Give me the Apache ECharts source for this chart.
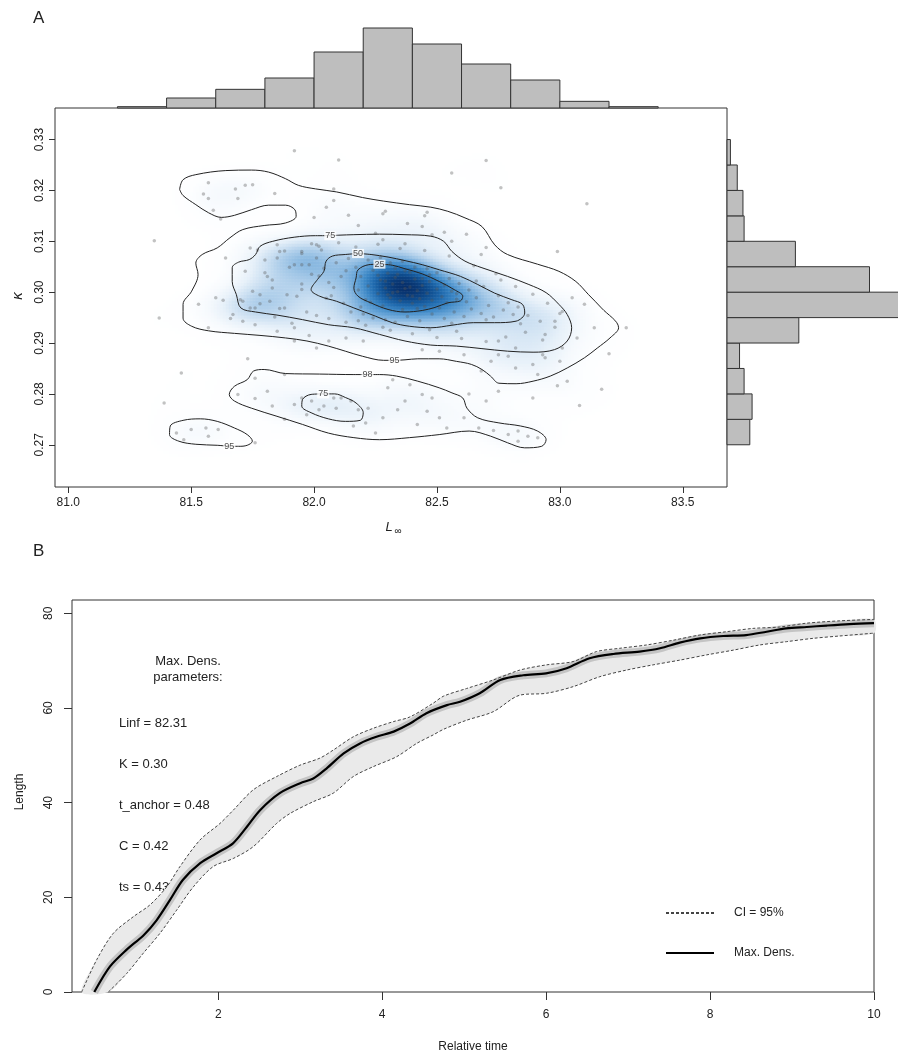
<!DOCTYPE html>
<html>
<head>
<meta charset="utf-8">
<script src="https://cdn.jsdelivr.net/npm/echarts@6/dist/echarts.min.js"></script>
<style>
  html, body { margin: 0; padding: 0; background: #fff; }
  #main { width: 898px; height: 1055px; }
</style>
</head>
<body>
<div id="main"></div>
<script>
  // ---- panel A: bootstrap samples (Linf, K) ----
  const samplesOuter = [
    [81.92,0.3278],[82.10,0.3260],[82.70,0.3259],[82.56,0.3234],[82.76,0.3205],[83.11,0.3174],
    [81.35,0.3101],[81.37,0.2949],[81.39,0.2782],[81.46,0.2841],[82.99,0.3080],[83.27,0.2930],
    [83.20,0.2879],[83.17,0.2809],[83.08,0.2777],[82.99,0.2816],[82.63,0.2800],[81.73,0.2869],
    [81.57,0.3215],[81.68,0.3203],[81.72,0.3210],[81.75,0.3211],[81.84,0.3194],[81.55,0.3193],
    [81.57,0.3184],[81.69,0.3184],[81.59,0.3161],[81.62,0.3144],[82.08,0.3203],[82.08,0.3180],
    [82.00,0.3147],[82.05,0.3167],[82.14,0.3151],[82.18,0.3131],[82.28,0.3154],[82.29,0.3159],
    [82.38,0.3135],[82.45,0.3150],[82.46,0.3157],[82.48,0.3113],[82.53,0.3118],[82.62,0.3114],
    [82.44,0.3129],[82.28,0.3103],[82.37,0.3095],[82.70,0.3088],[82.25,0.3116],[82.56,0.3100],
    [82.68,0.3074],[81.64,0.3067],[81.74,0.3087],[81.60,0.2989],[81.63,0.2984],[81.53,0.2976],
    [81.66,0.2948],[81.67,0.2956],[81.76,0.2969],[81.71,0.2943],[81.76,0.2936],[81.85,0.2923],
    [81.92,0.2930],[81.98,0.2915],[81.57,0.2930],[81.85,0.3093],[81.95,0.3080],[82.01,0.3093],
    [82.02,0.3090],[81.80,0.3038],[81.81,0.3031],[81.85,0.3067],[81.86,0.3080],[81.92,0.3054],
    [81.95,0.3005],[81.95,0.3016],[81.89,0.2995],[81.83,0.3008],[81.82,0.2982],[81.88,0.2969],
    [81.99,0.3035],[82.01,0.3067],[81.98,0.3054],[81.95,0.3054],[81.74,0.2969],[81.78,0.2995],
    [81.71,0.2982],
    [83.07,0.2910],[83.14,0.2930],[83.01,0.2890],[82.93,0.2877],[82.79,0.2874],[82.72,0.2864],
    [82.68,0.2845],[82.82,0.2851],[82.89,0.2858],[82.94,0.2871],[83.00,0.2864],[82.75,0.2877],
    [82.61,0.2877],[82.51,0.2884],[82.44,0.2887],[82.20,0.2904],[82.13,0.2910],[82.06,0.2904],
    [82.01,0.2890],[81.92,0.2904],[83.05,0.2989],[83.10,0.2976],[83.01,0.2962],[82.98,0.2943],
    [82.94,0.2917],[82.82,0.2890],[82.75,0.2904],
    [81.69,0.2799],[81.76,0.2791],[81.83,0.2776],[81.81,0.2805],[81.88,0.2838],[81.76,0.2831],
    [81.95,0.2792],[81.99,0.2786],[82.04,0.2776],[82.08,0.2792],[82.11,0.2792],[82.09,0.2772],
    [82.02,0.2769],[82.15,0.2786],[82.18,0.2769],[82.22,0.2772],[82.21,0.2743],[82.16,0.2737],
    [82.25,0.2723],[82.28,0.2753],[82.34,0.2769],[82.37,0.2786],[82.44,0.2799],[82.48,0.2792],
    [82.30,0.2812],[82.39,0.2818],[82.32,0.2828],[82.46,0.2766],[82.51,0.2753],[82.54,0.2733],
    [82.42,0.2740],[82.61,0.2753],[82.73,0.2728],[82.79,0.2720],[82.83,0.2727],[82.87,0.2717],
    [82.91,0.2714],[82.83,0.2707],[82.67,0.2733],[81.92,0.2779],[81.88,0.2750],[81.97,0.2759],
    [81.44,0.2723],[81.50,0.2730],[81.56,0.2733],[81.61,0.2730],[81.47,0.2710],[81.57,0.2717],
    [81.76,0.2704],[82.75,0.2805],[82.91,0.2838],[83.03,0.2825],[82.70,0.2786],[82.89,0.2792]
  ];
  // dense centre of the cloud (inside the 75 % contour)
  const samplesCore = [
    [82.19,0.3031],[82.22,0.3012],[82.24,0.3043],[82.26,0.2997],[82.27,0.3024],[82.29,0.3008],
    [82.30,0.3037],[82.31,0.2989],[82.32,0.3016],[82.33,0.3029],[82.34,0.3001],[82.35,0.2983],
    [82.36,0.3019],[82.37,0.3042],[82.38,0.2994],[82.39,0.3010],[82.40,0.2978],[82.41,0.3026],
    [82.42,0.3003],[82.43,0.2987],[82.44,0.3013],[82.45,0.2972],[82.46,0.2998],[82.47,0.3021],
    [82.48,0.2984],[82.50,0.3006],[82.51,0.2969],[82.52,0.2991],[82.54,0.2979],[82.56,0.3002],
    [82.58,0.2986],[82.21,0.2985],[82.25,0.3051],[82.28,0.2973],[82.33,0.3047],[82.36,0.2966],
    [82.18,0.3004],[82.23,0.2980],[82.30,0.2995],[82.34,0.3035],[82.39,0.3039],[82.42,0.2968],
    [82.47,0.3034],[82.53,0.3014],[82.29,0.3022],[82.32,0.2999],[82.37,0.3007],[82.26,0.3033],
    [82.40,0.2992],[82.44,0.3027],
    [82.04,0.3047],[82.06,0.3019],[82.07,0.2993],[82.09,0.3058],[82.11,0.3031],[82.12,0.2978],
    [82.14,0.3066],[82.15,0.2961],[82.17,0.3049],[82.20,0.2957],[82.22,0.3063],[82.24,0.2949],
    [82.27,0.3068],[82.29,0.2946],[82.31,0.3058],[82.33,0.2941],[82.36,0.3061],[82.38,0.2952],
    [82.41,0.3049],[82.43,0.2944],[82.46,0.3046],[82.48,0.2957],[82.50,0.3038],[82.53,0.2948],
    [82.55,0.3027],[82.57,0.2961],[82.59,0.3017],[82.61,0.2952],[82.63,0.3004],[82.64,0.2967],
    [82.66,0.2989],[82.68,0.2958],[82.69,0.3011],[82.71,0.2974],[82.73,0.2951],[82.75,0.2993],
    [82.77,0.2965],[82.79,0.2979],[82.81,0.2956],[82.83,0.2971],[82.62,0.2981],[82.58,0.2997],
    [82.70,0.2946],[82.08,0.3009],[82.13,0.3042],[82.19,0.2971],[82.02,0.3032],[82.05,0.2988],
    [82.56,0.2939],[82.66,0.3022],
    [81.72,0.3041],[81.75,0.3002],[81.78,0.2977],[81.80,0.3063],[81.83,0.3024],[81.86,0.2968],
    [81.88,0.3081],[81.90,0.3049],[81.93,0.2992],[81.95,0.3076],[81.97,0.2961],[81.99,0.3095],
    [82.01,0.2954],[82.03,0.3083],[82.06,0.2948],[82.10,0.3097],[82.13,0.2941],[82.17,0.3089],
    [82.21,0.2935],[82.26,0.3094],[82.31,0.2925],[82.35,0.3086],[82.40,0.2918],[82.45,0.3082],
    [82.50,0.2911],[82.55,0.3071],[82.60,0.2909],[82.65,0.3052],[82.70,0.2903],[82.74,0.3036],
    [82.78,0.2912],[82.82,0.3011],[82.86,0.2921],[82.89,0.2996],[82.92,0.2943],[82.95,0.2978],
    [82.98,0.2931],[83.00,0.2958],[82.87,0.2954],[82.76,0.3024],[82.84,0.2938],[82.93,0.2906],
    [81.70,0.2985],[81.77,0.3083],[81.84,0.2951],[82.47,0.2926],[82.58,0.2923],[82.28,0.2931],
    [82.18,0.2944],[81.91,0.2939]
  ];

  // HPD contour outlines (Linf, K)
  const contour25 = [
    [82.266,0.3055],[82.223,0.3054],[82.179,0.3044],[82.171,0.3028],[82.162,0.3008],[82.179,0.2992],
    [82.231,0.2979],[82.301,0.2966],[82.370,0.2961],[82.440,0.2964],[82.492,0.2970],[82.544,0.2979],
    [82.596,0.2983],[82.605,0.2992],[82.570,0.3005],[82.509,0.3021],[82.440,0.3036],[82.370,0.3046],
    [82.318,0.3053]
  ];
  const contour50 = [
    [82.179,0.3076],[82.127,0.3074],[82.075,0.3071],[82.049,0.3061],[82.040,0.3041],[82.014,0.3025],
    [81.988,0.3005],[82.023,0.2992],[82.092,0.2982],[82.162,0.2969],[82.249,0.2953],[82.318,0.2940],
    [82.388,0.2933],[82.475,0.2930],[82.561,0.2935],[82.648,0.2940],[82.735,0.2940],[82.822,0.2943],
    [82.857,0.2959],[82.848,0.2976],[82.805,0.2985],[82.735,0.2998],[82.666,0.3015],[82.596,0.3031],
    [82.509,0.3044],[82.440,0.3054],[82.370,0.3062],[82.301,0.3069],[82.232,0.3074]
  ];
  const contour75 = [
    [82.066,0.3111],[82.006,0.3111],[81.919,0.3108],[81.832,0.3100],[81.780,0.3090],[81.762,0.3074],
    [81.736,0.3064],[81.693,0.3059],[81.667,0.3048],[81.667,0.3021],[81.684,0.2995],[81.702,0.2969],
    [81.762,0.2961],[81.849,0.2955],[81.953,0.2946],[82.058,0.2936],[82.162,0.2930],[82.266,0.2917],
    [82.370,0.2904],[82.475,0.2896],[82.579,0.2894],[82.683,0.2889],[82.787,0.2884],[82.891,0.2882],
    [82.978,0.2887],[83.030,0.2904],[83.048,0.2930],[83.030,0.2956],[82.996,0.2976],[82.944,0.2999],
    [82.874,0.3015],[82.787,0.3031],[82.683,0.3048],[82.614,0.3061],[82.561,0.3080],[82.527,0.3100],
    [82.475,0.3110],[82.370,0.3113],[82.266,0.3114],[82.162,0.3113],[82.101,0.3112]
  ];
  const contour95 = [
    [81.453,0.3202],[81.467,0.3221],[81.519,0.3231],[81.641,0.3239],[81.745,0.3240],[81.815,0.3236],
    [81.884,0.3223],[81.936,0.3210],[82.006,0.3203],[82.092,0.3197],[82.197,0.3186],[82.283,0.3179],
    [82.388,0.3172],[82.475,0.3167],[82.544,0.3159],[82.614,0.3146],[82.683,0.3129],[82.735,0.3093],
    [82.787,0.3074],[82.909,0.3055],[82.996,0.3041],[83.065,0.3021],[83.117,0.2995],[83.169,0.2969],
    [83.239,0.2930],[83.204,0.2910],[83.152,0.2890],[83.100,0.2871],[83.030,0.2851],[82.961,0.2835],
    [82.891,0.2825],[82.822,0.2820],[82.752,0.2821],[82.718,0.2835],[82.683,0.2848],[82.640,0.2858],
    [82.579,0.2864],[82.509,0.2869],[82.422,0.2869],[82.370,0.2867],[82.327,0.2866],[82.283,0.2866],
    [82.197,0.2874],[82.127,0.2884],[82.058,0.2894],[81.971,0.2904],[81.884,0.2910],[81.780,0.2915],
    [81.676,0.2919],[81.571,0.2924],[81.502,0.2933],[81.467,0.2949],[81.467,0.2976],[81.502,0.3002],
    [81.528,0.3035],[81.519,0.3057],[81.545,0.3074],[81.606,0.3087],[81.658,0.3107],[81.710,0.3123],
    [81.797,0.3131],[81.884,0.3136],[81.927,0.3149],[81.922,0.3162],[81.884,0.3171],[81.815,0.3171],
    [81.745,0.3162],[81.676,0.3151],[81.623,0.3147],[81.571,0.3156],[81.519,0.3172],[81.467,0.3190]
  ];
  const contour98Low = [
    [82.217,0.2838],[82.162,0.2838],[82.023,0.2839],[81.884,0.2840],[81.797,0.2848],[81.754,0.2845],
    [81.728,0.2828],[81.676,0.2815],[81.655,0.2799],[81.676,0.2786],[81.745,0.2772],[81.849,0.2756],
    [81.953,0.2740],[82.058,0.2723],[82.162,0.2714],[82.266,0.2710],[82.388,0.2714],[82.509,0.2720],
    [82.631,0.2727],[82.718,0.2717],[82.787,0.2704],[82.857,0.2694],[82.926,0.2697],[82.944,0.2710],
    [82.909,0.2727],[82.839,0.2737],[82.752,0.2743],[82.666,0.2753],[82.622,0.2772],[82.605,0.2792],
    [82.561,0.2802],[82.509,0.2812],[82.422,0.2825],[82.336,0.2835],[82.266,0.2838]
  ];
  const contour75Low = [
    [82.037,0.2800],[81.988,0.2799],[81.953,0.2789],[81.950,0.2776],[81.988,0.2763],[82.058,0.2751],
    [82.127,0.2746],[82.188,0.2748],[82.200,0.2763],[82.171,0.2782],[82.127,0.2793],[82.084,0.2800]
  ];
  const contour95Low = [
    [81.655,0.2697],[81.606,0.2699],[81.519,0.2701],[81.450,0.2707],[81.412,0.2720],[81.415,0.2737],
    [81.467,0.2748],[81.537,0.2751],[81.606,0.2746],[81.676,0.2733],[81.728,0.2720],[81.749,0.2707],
    [81.728,0.2699],[81.693,0.2697]
  ];
  const contourLabels = [
    [82.266,0.3055,'25'],[82.179,0.3076,'50'],[82.066,0.3111,'75'],[82.327,0.2866,'95'],
    [82.217,0.2838,'98'],[82.037,0.2800,'75'],[81.655,0.2697,'95']
  ];

  // marginal histograms
  const linfEdges = [81.2,81.4,81.6,81.8,82.0,82.2,82.4,82.6,82.8,83.0,83.2,83.4];
  const linfCounts = [2,15,28,45,84,120,96,66,42,10,2];
  const kEdges = [0.270,0.275,0.280,0.285,0.290,0.295,0.300,0.305,0.310,0.315,0.320,0.325,0.330];
  const kCounts = [20,22,15,11,63,153,125,60,15,14,9,3];

  // ---- panel B: growth curves (relative time, length) ----
  const maxDens = [
    [0.488,0],[0.68,5.4],[0.88,8.9],[1.09,12.0],[1.25,15.2],[1.41,19.4],[1.57,23.7],[1.78,27.2],
    [1.98,29.3],[2.18,31.4],[2.35,34.9],[2.51,38.4],[2.75,42.0],[3.0,44.1],[3.16,45.1],[3.32,47.2],
    [3.53,50.4],[3.73,52.5],[3.93,53.9],[4.14,55.0],[4.34,56.7],[4.54,58.9],[4.79,60.6],[4.95,61.3],
    [5.19,63.1],[5.44,65.9],[5.72,66.9],[6.0,67.3],[6.25,68.4],[6.53,70.5],[6.82,71.4],[7.14,71.9],
    [7.39,72.6],[7.63,73.8],[7.88,74.7],[8.16,75.2],[8.44,75.4],[8.69,76.1],[8.93,76.8],[9.18,77.1],
    [9.42,77.4],[9.70,77.7],[10.0,77.9]
  ];
  const ciUpper = [
    [0.334,0],[0.517,6.8],[0.72,12.4],[0.964,15.9],[1.167,18.4],[1.371,22.2],[1.533,26.5],[1.777,32.1],
    [2.021,35.6],[2.183,38.4],[2.427,42.7],[2.712,45.5],[2.996,47.9],[3.24,49.4],[3.403,51.1],[3.647,53.9],
    [3.891,55.7],[4.135,57.1],[4.338,58.1],[4.622,61.0],[4.75,62.5],[5.029,64.1],[5.354,65.9],[5.68,68.0],
    [6.005,69.1],[6.33,69.8],[6.614,71.9],[6.899,72.6],[7.224,73.3],[7.549,74.3],[7.875,75.4],[8.2,76.1],
    [8.525,76.8],[8.85,77.1],[9.176,77.9],[9.582,78.4],[10,78.7]
  ];
  const ciLower = [
    [0.659,0],[0.883,3.9],[1.086,8.2],[1.289,12.4],[1.493,17.3],[1.696,22.2],[1.939,26.5],[2.183,28.2],
    [2.427,30.7],[2.712,35.6],[2.875,37.7],[3.159,40.2],[3.403,42.0],[3.647,45.5],[3.891,47.6],[4.176,49.7],
    [4.42,52.5],[4.622,54.3],[4.75,55.5],[5.029,57.4],[5.354,59.2],[5.68,62.7],[6.005,63.1],[6.33,64.5],
    [6.655,66.6],[6.981,68.0],[7.305,69.1],[7.631,70.1],[7.956,71.2],[8.281,72.2],[8.606,73.3],[8.932,74.0],
    [9.257,74.7],[9.582,75.2],[10,75.8]
  ];
  const paramLines = ['Linf = 82.31', 'K = 0.30', 't_anchor = 0.48', 'C = 0.42', 'ts = 0.43'];

  const FONT = 'Liberation Sans, Arial, sans-serif';
  const INK = '#333';
  const L_RANGE = [80.946, 83.68];
  const K_RANGE = [0.2617, 0.3362];
  const samples = samplesOuter.concat(samplesCore);

  // kernel density of the samples on a fine grid
  const NX = 224, NY = 126;
  const hL = 0.095, hK = 0.0029;
  const dens = [];
  let dmax = 0;
  for (let i = 0; i < NX; i++) {
    const L = L_RANGE[0] + (i + 0.5) * (L_RANGE[1] - L_RANGE[0]) / NX;
    for (let j = 0; j < NY; j++) {
      const K = K_RANGE[0] + (j + 0.5) * (K_RANGE[1] - K_RANGE[0]) / NY;
      let s = 0;
      for (const p of samples) {
        const a = (L - p[0]) / hL, b = (K - p[1]) / hK;
        s += Math.exp(-0.5 * (a * a + b * b));
      }
      dens.push([i, j, s]);
      if (s > dmax) dmax = s;
    }
  }
  const heatData = dens.filter((d) => d[2] > dmax * 0.04);
  const idx = (n) => Array.from({ length: n }, (_, i) => i);

  function closed(arr) {
    return arr.concat([arr[0]]);
  }

  function contourSeries(data) {
    return {
      type: 'line',
      xAxisIndex: 0,
      yAxisIndex: 0,
      data: closed(data),
      showSymbol: false,
      smooth: 0.35,
      silent: true,
      z: 4,
      lineStyle: { color: '#222', width: 1 },
    };
  }

  function boxAxis(extra) {
    return Object.assign({ type: 'value', axisLine: { show: false }, splitLine: { show: false } }, extra);
  }

  function ticks(values, len) {
    return { show: true, length: len, lineStyle: { color: INK }, customValues: values };
  }

  function labels(values, margin, extra) {
    return Object.assign({ color: '#222', fontSize: 12, fontFamily: FONT, margin: margin, customValues: values }, extra || {});
  }

  function histRect(a, b) {
    return {
      type: 'rect',
      shape: { x: a[0], y: a[1], width: b[0] - a[0], height: b[1] - a[1] },
      style: { fill: '#bebebe', stroke: INK, lineWidth: 1 },
    };
  }

  const option = {
    animation: false,
    backgroundColor: '#fff',
    grid: [
      { left: 55, top: 108, width: 672, height: 379, show: true, borderColor: INK, borderWidth: 1, backgroundColor: 'transparent' },
      { left: 55, top: 108, width: 672, height: 379 },
      { left: 55, top: 28, width: 672, height: 80 },
      { left: 727, top: 108, width: 176, height: 379 },
      { left: 72, top: 600, width: 802, height: 392, show: true, borderColor: INK, borderWidth: 1, backgroundColor: 'transparent' },
    ],
    xAxis: [
      boxAxis({
        gridIndex: 0, min: L_RANGE[0], max: L_RANGE[1],
        axisTick: ticks([81, 81.5, 82, 82.5, 83, 83.5], 6),
        axisLabel: labels([81, 81.5, 82, 82.5, 83, 83.5], 10, { formatter: (v) => v.toFixed(1) }),
      }),
      { type: 'category', gridIndex: 1, data: idx(NX), show: false },
      { type: 'value', gridIndex: 2, min: L_RANGE[0], max: L_RANGE[1], show: false },
      { type: 'value', gridIndex: 3, min: 0, max: 150, show: false },
      boxAxis({
        gridIndex: 4, min: 0.216, max: 10,
        axisTick: ticks([2, 4, 6, 8, 10], 8),
        axisLabel: labels([2, 4, 6, 8, 10], 17),
      }),
    ],
    yAxis: [
      boxAxis({
        gridIndex: 0, min: K_RANGE[0], max: K_RANGE[1],
        axisTick: ticks([0.27, 0.28, 0.29, 0.3, 0.31, 0.32, 0.33], 6),
        axisLabel: labels([0.27, 0.28, 0.29, 0.3, 0.31, 0.32, 0.33], 9, { rotate: 90, formatter: (v) => v.toFixed(2) }),
      }),
      { type: 'category', gridIndex: 1, data: idx(NY), show: false },
      { type: 'value', gridIndex: 2, min: 0, max: 120, show: false },
      { type: 'value', gridIndex: 3, min: K_RANGE[0], max: K_RANGE[1], show: false },
      boxAxis({
        gridIndex: 4, min: 0, max: 82.8,
        axisTick: ticks([0, 20, 40, 60, 80], 8),
        axisLabel: labels([0, 20, 40, 60, 80], 17, { rotate: 90 }),
      }),
    ],
    visualMap: {
      show: false,
      seriesIndex: 0,
      min: 0,
      max: dmax,
      inRange: {
        color: ['#ffffff', '#fdfeff', '#f5f9fd', '#e6f0f9', '#c9def1', '#9fc5e6', '#6aa6d8', '#3d88c6', '#1f69ad', '#0e4b8c', '#08306b'],
      },
    },
    legend: {
      orient: 'vertical',
      left: 660,
      top: 902,
      itemWidth: 48,
      itemHeight: 14,
      itemGap: 28,
      itemStyle: { opacity: 0 },
      data: ['CI = 95%', 'Max. Dens.'],
      textStyle: { fontSize: 12, fontFamily: FONT, color: '#222', padding: [0, 0, 0, 15] },
    },
    graphic: [
      { type: 'text', left: 33, top: 10, style: { text: 'A', fontSize: 17, fontFamily: FONT, fill: '#222' } },
      { type: 'text', left: 33, top: 543, style: { text: 'B', fontSize: 17, fontFamily: FONT, fill: '#222' } },
      { type: 'text', x: 18, y: 296, rotation: Math.PI / 2, style: { text: 'κ', fontSize: 15, fontStyle: 'italic', fontFamily: FONT, fill: '#222', align: 'center', verticalAlign: 'middle' } },
      { type: 'text', x: 389, y: 527, style: { text: 'L', fontSize: 13, fontStyle: 'italic', fontFamily: FONT, fill: '#222', align: 'center', verticalAlign: 'middle' } },
      { type: 'text', x: 398, y: 531, style: { text: '∞', fontSize: 10, fontFamily: FONT, fill: '#222', align: 'center', verticalAlign: 'middle' } },
      { type: 'text', x: 20, y: 792, rotation: Math.PI / 2, style: { text: 'Length', fontSize: 12, fontFamily: FONT, fill: '#222', align: 'center', verticalAlign: 'middle' } },
      { type: 'text', x: 473, y: 1047, style: { text: 'Relative time', fontSize: 12, fontFamily: FONT, fill: '#222', align: 'center', verticalAlign: 'middle' } },
      { type: 'text', x: 188, y: 669, style: { text: 'Max. Dens.\nparameters:', fontSize: 13, lineHeight: 16, fontFamily: FONT, fill: '#222', align: 'center', verticalAlign: 'middle' } },
    ].concat(
      paramLines.map((s, i) => ({
        type: 'text', x: 119, y: 723 + i * 41,
        style: { text: s, fontSize: 13, fontFamily: FONT, fill: '#222', align: 'left', verticalAlign: 'middle' },
      }))
    ),
    series: [
      {
        type: 'heatmap',
        xAxisIndex: 1,
        yAxisIndex: 1,
        data: heatData,
        progressive: 0,
        silent: true,
        z: 1,
      },
      {
        type: 'scatter',
        xAxisIndex: 0,
        yAxisIndex: 0,
        data: samples,
        symbolSize: 3.5,
        silent: true,
        z: 3,
        itemStyle: { color: 'rgba(85,85,85,0.45)' },
      },
      contourSeries(contour25),
      contourSeries(contour50),
      contourSeries(contour75),
      contourSeries(contour95),
      contourSeries(contour98Low),
      contourSeries(contour75Low),
      contourSeries(contour95Low),
      {
        type: 'scatter',
        xAxisIndex: 0,
        yAxisIndex: 0,
        data: contourLabels,
        symbolSize: 1,
        silent: true,
        z: 5,
        itemStyle: { color: 'rgba(0,0,0,0)' },
        label: {
          show: true,
          position: 'inside',
          formatter: (p) => p.value[2],
          fontSize: 9,
          fontFamily: FONT,
          color: '#222',
          backgroundColor: '#fff',
          padding: [0, 1],
        },
      },
      {
        type: 'custom',
        xAxisIndex: 2,
        yAxisIndex: 2,
        data: linfCounts.map((c, i) => [linfEdges[i], linfEdges[i + 1], c]),
        encode: { x: [0, 1], y: 2 },
        silent: true,
        renderItem: (params, api) => histRect(api.coord([api.value(0), api.value(2)]), api.coord([api.value(1), 0])),
      },
      {
        type: 'custom',
        xAxisIndex: 3,
        yAxisIndex: 3,
        data: kCounts.map((c, i) => [kEdges[i], kEdges[i + 1], c]),
        encode: { y: [0, 1], x: 2 },
        silent: true,
        renderItem: (params, api) => histRect(api.coord([0, api.value(1)]), api.coord([api.value(2), api.value(0)])),
      },
      {
        type: 'custom',
        xAxisIndex: 4,
        yAxisIndex: 4,
        data: [[0]],
        silent: true,
        z: 1,
        renderItem: (params, api) => {
          const pts = ciUpper.map((p) => api.coord(p)).concat(ciLower.slice().reverse().map((p) => api.coord(p)));
          return { type: 'polygon', shape: { points: pts, smooth: 0.3 }, style: { fill: '#eaeaea' } };
        },
      },
      {
        name: 'halo',
        type: 'line',
        xAxisIndex: 4,
        yAxisIndex: 4,
        data: maxDens,
        showSymbol: false,
        smooth: 0.3,
        silent: true,
        z: 2,
        lineStyle: { color: 'rgba(0,0,0,0.16)', width: 8 },
      },
      {
        name: 'CI = 95%',
        type: 'line',
        xAxisIndex: 4,
        yAxisIndex: 4,
        data: ciUpper,
        showSymbol: false,
        symbol: 'none',
        smooth: 0.3,
        silent: true,
        z: 3,
        itemStyle: { color: '#444' },
        lineStyle: { color: '#444', width: 1, type: [3, 2] },
      },
      {
        name: 'CI = 95%',
        type: 'line',
        xAxisIndex: 4,
        yAxisIndex: 4,
        data: ciLower,
        showSymbol: false,
        symbol: 'none',
        smooth: 0.3,
        silent: true,
        z: 3,
        itemStyle: { color: '#444' },
        lineStyle: { color: '#444', width: 1, type: [3, 2] },
      },
      {
        name: 'Max. Dens.',
        type: 'line',
        xAxisIndex: 4,
        yAxisIndex: 4,
        data: maxDens,
        showSymbol: false,
        symbol: 'none',
        smooth: 0.3,
        silent: true,
        z: 4,
        itemStyle: { color: '#000' },
        lineStyle: { color: '#000', width: 2.2 },
      },
    ],
  };

  const chart = echarts.init(document.getElementById('main'), null, { renderer: 'canvas' });
  chart.setOption(option);
</script>
</body>
</html>
